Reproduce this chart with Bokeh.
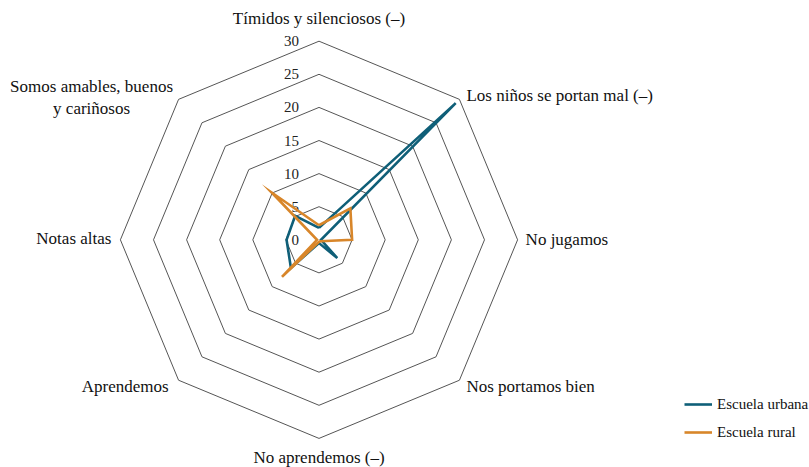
import math
from bokeh.plotting import figure
from bokeh.models import Range1d, ColumnDataSource, Legend, LegendItem
from bokeh.core.properties import value
from bokeh.embed import file_html
from bokeh.resources import INLINE

categories = ["Tímidos y silenciosos (–)", "Los niños se portan mal (–)", "No jugamos",
              "Nos portamos bien", "No aprendemos (–)", "Aprendemos", "Notas altas",
              "Somos amables, buenos\ny cariñosos"]
urbana = [1.8, 29.2, 0.3, 3.9, 0.5, 6.0, 4.9, 5.1]
rural = [2.2, 6.7, 5.0, 0.3, 0.3, 7.9, 0.3, 10.1]
levels = [5, 10, 15, 20, 25, 30]
tick_labels = ["0", "5", "10", "15", "20", "25", "30"]
tick_values = [0, 5, 10, 15, 20, 25, 30]

BLUE = "#0f5f78"
ORANGE = "#d8862a"
FONT = "Liberation Serif"

W, H = 809, 467
S = 6.62  # px per unit
cx, cy = 318.5, 239.3

n = len(categories)
ang = [2 * math.pi * i / n for i in range(n)]

def pts(vals):
    xs = [v * math.sin(a) for v, a in zip(vals, ang)]
    ys = [v * math.cos(a) for v, a in zip(vals, ang)]
    return xs + xs[:1], ys + ys[:1]

p = figure(width=W, height=H, output_backend="svg", toolbar_location=None,
           x_range=Range1d(-cx / S, (W - cx) / S), y_range=Range1d(-(H - cy) / S, cy / S),
           min_border=0, outline_line_color=None)
p.axis.visible = False
p.grid.visible = False
p.background_fill_color = "white"

for lv in levels:
    gx, gy = pts([lv] * n)
    p.line(gx, gy, line_color="#555555", line_width=1)

# tick labels
p.text(x=[0] * len(tick_values), y=tick_values, text=tick_labels, x_offset=-20,
       text_align="right", text_baseline="middle", text_font=value(FONT),
       text_font_size="15px", text_color="#222222")

# category labels
lx, ly = pts([30] * n)
lx, ly = lx[:-1], ly[:-1]
xoff = [0, 7, 8, 7, 0, -10, -9, -87]
yoff = [-23, -4, 0, 6, 19, 6, -1, -2]
aligns = ["center", "left", "left", "left", "center", "right", "right", "center"]
src = ColumnDataSource(dict(x=lx, y=ly, t=categories, xo=xoff, yo=yoff, al=aligns))
p.text(x="x", y="y", text="t", x_offset="xo", y_offset="yo", text_align="al",
       text_baseline="middle", text_font=value(FONT), text_font_size="17px",
       text_color="#111111", text_line_height=1.15, source=src)

ux, uy = pts(urbana)
rx, ry = pts(rural)
r1 = p.line(ux, uy, line_color=BLUE, line_width=2.6, line_join="miter")
r2 = p.line(rx, ry, line_color=ORANGE, line_width=2.6, line_join="miter")

legend = Legend(items=[LegendItem(label="Escuela urbana", renderers=[r1]),
                       LegendItem(label="Escuela rural", renderers=[r2])],
                location=(684, 25), border_line_color=None, background_fill_alpha=0,
                glyph_width=28, glyph_height=20, label_height=20, spacing=8,
                label_standoff=5, padding=10, margin=0,
                label_text_font=FONT, label_text_font_size="15px", label_text_color="#111111")
p.add_layout(legend)

open("out.html", "w").write(file_html(p, INLINE))
